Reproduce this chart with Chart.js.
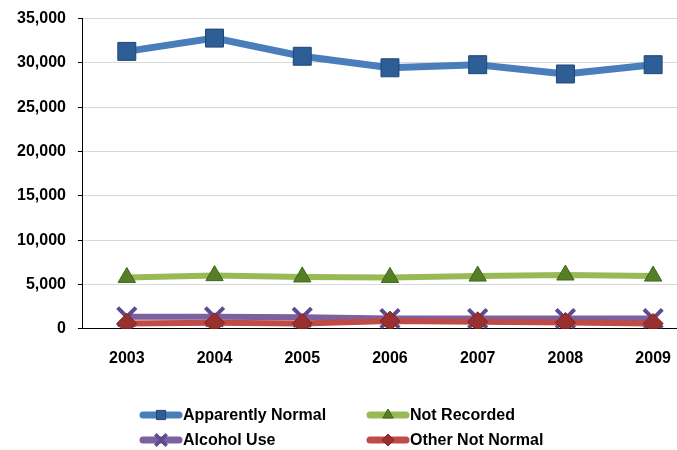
<!DOCTYPE html>
<html>
<head>
<meta charset="utf-8">
<script src="https://cdn.jsdelivr.net/npm/chart.js"></script>
<style>
  html, body { margin: 0; padding: 0; background: #fff; overflow: hidden; }
  #wrap { width: 714px; height: 450px; overflow: hidden; }
  #chart { display: block; margin-top: -3px; }
</style>
</head>
<body>
<div id="wrap"><canvas id="chart" width="714" height="453"></canvas></div>
<script>
// Yearly counts by condition
const years = ['2003', '2004', '2005', '2006', '2007', '2008', '2009'];
const apparentlyNormal = [31300, 32800, 30750, 29450, 29800, 28750, 29800];
const notRecorded = [5800, 6000, 5850, 5800, 5950, 6070, 5950];
const alcoholUse = [1350, 1350, 1300, 1150, 1150, 1150, 1150];
const otherNotNormal = [600, 680, 600, 870, 790, 715, 600];
const yTicks = [0, 5000, 10000, 15000, 20000, 25000, 30000, 35000];

const FONT = "'Liberation Sans', Arial, sans-serif";

const series = [
  { label: 'Apparently Normal', data: apparentlyNormal, line: '#4A7EBB', width: 7,
    style: 'rect', radius: 12.7, fill: '#2D5E96', stroke: '#1F4677', order: 4,
    legendRadius: 6.5, col: 0, row: 0 },
  { label: 'Not Recorded', data: notRecorded, line: '#98B954', width: 6,
    style: 'triangle', radius: 10, fill: '#557F27', stroke: '#3F6519', order: 3,
    legendRadius: 6, col: 1, row: 0 },
  { label: 'Alcohol Use', data: alcoholUse, line: '#7D60A0', width: 6,
    style: 'crossRot', radius: 13, fill: '#5E4A8C', stroke: '#5E4A8C', order: 2,
    legendRadius: 8, col: 0, row: 1, pointWidth: 4 },
  { label: 'Other Not Normal', data: otherNotNormal, line: '#BE4B48', width: 6,
    style: 'rectRot', radius: 10, fill: '#99302D', stroke: '#7E2624', order: 1,
    legendRadius: 6, col: 1, row: 1 }
];

// Legend drawn in two columns under the plot
const gridLegend = {
  id: 'gridLegend',
  afterDraw(chart) {
    const ctx = chart.ctx;
    const colX = [140, 367];
    const rowY = [418, 443];
    const lineLen = 42;
    ctx.save();
    series.forEach(s => {
      const x0 = colX[s.col];
      const y = rowY[s.row];
      ctx.strokeStyle = s.line;
      ctx.lineWidth = 7;
      ctx.lineCap = 'round';
      ctx.beginPath();
      ctx.moveTo(x0 + 3, y);
      ctx.lineTo(x0 + lineLen - 3, y);
      ctx.stroke();
      ctx.fillStyle = s.fill;
      ctx.strokeStyle = s.stroke;
      ctx.lineWidth = s.pointWidth ? 3.5 : 1;
      ctx.lineCap = 'butt';
      Chart.helpers.drawPoint(ctx, { pointStyle: s.style, rotation: 0, borderWidth: ctx.lineWidth,
        radius: s.legendRadius }, x0 + lineLen / 2, y);
      ctx.fillStyle = '#000';
      ctx.font = 'bold 16px ' + FONT;
      ctx.textBaseline = 'middle';
      ctx.textAlign = 'left';
      ctx.fillText(s.label, x0 + lineLen + 1, y + 1);
    });
    ctx.restore();
  }
};

new Chart(document.getElementById('chart'), {
  type: 'line',
  data: {
    labels: years,
    datasets: series.map(s => ({
      label: s.label,
      data: s.data,
      order: s.order,
      borderColor: s.line,
      borderWidth: s.width,
      tension: 0,
      pointStyle: s.style,
      pointRadius: s.radius,
      pointHoverRadius: s.radius,
      pointBackgroundColor: s.fill,
      pointBorderColor: s.stroke,
      pointBorderWidth: s.pointWidth || 1
    }))
  },
  options: {
    responsive: false,
    animation: false,
    events: [],
    layout: { padding: { top: 5, left: 5, right: 4.5, bottom: 62 } },
    plugins: {
      legend: { display: false },
      tooltip: { enabled: false }
    },
    scales: {
      x: {
        offset: true,
        grid: { display: false, drawTicks: false },
        border: { display: true, color: '#000', width: 1 },
        ticks: {
          padding: 20,
          color: '#000',
          font: { family: FONT, size: 16, weight: 'bold' }
        }
      },
      y: {
        min: 0,
        max: 35000,
        afterBuildTicks(scale) { scale.ticks = yTicks.map(v => ({ value: v })); },
        grid: { color: '#D9D9D9', lineWidth: 1, tickLength: 5, tickColor: '#000', drawTicks: true },
        border: { display: true, color: '#000', width: 1 },
        ticks: {
          padding: 12,
          color: '#000',
          font: { family: FONT, size: 16, weight: 'bold' },
          callback: v => Number(v).toLocaleString('en-US')
        }
      }
    }
  },
  plugins: [gridLegend]
});
</script>
</body>
</html>
